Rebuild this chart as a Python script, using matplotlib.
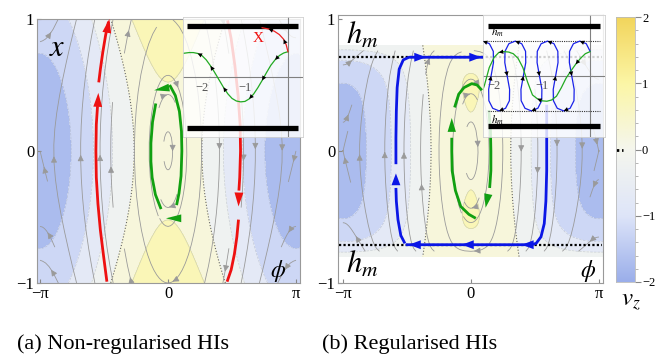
import numpy as np
import matplotlib
matplotlib.use("Agg")
import matplotlib.pyplot as plt
from matplotlib.colors import LinearSegmentedColormap, Normalize

plt.rcParams['font.family'] = ['Liberation Serif', 'DejaVu Serif']
plt.rcParams['mathtext.fontset'] = 'stix'

# ---- data ----------------------------------------------------------------
x_ticks = [-np.pi, 0, np.pi]
x_ticklabels = ['\u2212\u03c0', '0', '\u03c0']
y_ticks = [-1, 0, 1]
y_ticklabels = ['\u22121', '0', '1']
cbar_ticks = [-2, -1, 0, 1, 2]
cbar_labels = ['\u22122', '\u22121', '0', '1', '2']
vz_levels = [-2, -1.5, -1, -0.5, 0, 0.5, 1, 1.5, 2]
h_m = 0.71

# trajectories in (phi, x)
red_a_left = [[(-1.50, -0.99), (-1.58, -0.80), (-1.66, -0.60), (-1.72, -0.40), (-1.76, -0.20),
               (-1.77, 0.0), (-1.76, 0.20), (-1.73, 0.34)],
              [(-1.70, 0.52), (-1.66, 0.62), (-1.60, 0.75), (-1.53, 0.88), (-1.46, 0.98)]]
red_a_right = [[(1.46, 0.99), (1.55, 0.85), (1.64, 0.65), (1.72, 0.42), (1.77, 0.20),
                (1.78, 0.0), (1.76, -0.20), (1.74, -0.30)],
               [(1.73, -0.52), (1.69, -0.65), (1.63, -0.78), (1.55, -0.90), (1.45, -0.99)]]
red_a_heads = [((-1.73, 0.30), (-1.71, 0.44)), ((-1.47, 0.95), (-1.44, 1.0)),
               ((1.745, -0.28), (1.73, -0.42))]

green_a = [[(0.04, 0.50), (0.18, 0.42), (0.28, 0.30), (0.33, 0.15), (0.34, 0.0),
            (0.32, -0.19), (0.27, -0.32), (0.21, -0.41)],
           [(-0.30, 0.36), (-0.38, 0.22), (-0.42, 0.06), (-0.42, -0.08), (-0.39, -0.20),
            (-0.31, -0.33), (-0.17, -0.44)]]
green_a_heads = [((0.02, 0.48), (-0.34, 0.46)), ((0.28, -0.51), (-0.05, -0.51))]

green_b = [[(0.12, -0.51), (-0.05, -0.48), (-0.25, -0.42), (-0.38, -0.30), (-0.46, -0.15),
            (-0.47, 0.0), (-0.47, 0.10)],
           [(-0.40, 0.33), (-0.30, 0.43), (-0.17, 0.48), (0.02, 0.51), (0.15, 0.50), (0.27, 0.46)],
           [(0.44, 0.31), (0.48, 0.15), (0.49, 0.0), (0.49, -0.15), (0.46, -0.28)]]
green_b_heads = [((-0.47, 0.05), (-0.47, 0.25)), ((0.47, -0.26), (0.36, -0.43))]

blue_b = [[(-1.62, -0.70), (-1.72, -0.64), (-1.79, -0.52), (-1.83, -0.38), (-1.84, -0.28)],
          [(-1.84, -0.10), (-1.84, 0.10), (-1.83, 0.30), (-1.81, 0.48), (-1.76, 0.62),
           (-1.66, 0.69), (-1.52, 0.71), (0.30, 0.71)],
          [(1.86, 0.35), (1.86, 0.10), (1.86, -0.15), (1.84, -0.38), (1.80, -0.55),
           (1.72, -0.65), (1.60, -0.70), (1.48, -0.71), (-1.60, -0.71)]]
blue_b_heads = [((-1.84, -0.30), (-1.84, -0.17)), ((-1.35, 0.71), (-1.10, 0.71)),
                ((0.0, 0.71), (0.25, 0.71)), ((1.50, -0.71), (1.25, -0.71)),
                ((0.0, -0.71), (-0.22, -0.71)), ((-1.30, -0.71), (-1.52, -0.71))]

# inset curves (inset coordinates)
ins_green_a = [(0.00, 0.59), (-0.10, 0.56), (-0.20, 0.50), (-0.30, 0.40), (-0.40, 0.27),
               (-0.50, 0.10), (-0.60, -0.08), (-0.70, -0.25), (-0.80, -0.40), (-0.90, -0.51),
               (-1.00, -0.57), (-1.10, -0.58), (-1.20, -0.56), (-1.30, -0.50), (-1.40, -0.39),
               (-1.50, -0.24), (-1.60, -0.07), (-1.70, 0.10), (-1.80, 0.26), (-1.90, 0.40),
               (-2.00, 0.50), (-2.10, 0.55), (-2.20, 0.57), (-2.30, 0.57), (-2.45, 0.55)]
ins_red_a = [(0.0, 0.59), (-0.04, 0.75), (-0.10, 0.88), (-0.20, 0.99), (-0.32, 1.07),
             (-0.45, 1.12), (-0.60, 1.15)]
ins_green_b = [(0.00, 0.58), (-0.10, 0.53), (-0.20, 0.42), (-0.30, 0.28), (-0.40, 0.12),
               (-0.50, -0.05), (-0.60, -0.28), (-0.70, -0.48), (-0.80, -0.57), (-0.90, -0.60),
               (-1.00, -0.59), (-1.10, -0.54), (-1.20, -0.45), (-1.30, -0.15), (-1.40, 0.20),
               (-1.50, 0.42), (-1.60, 0.53), (-1.70, 0.57), (-1.80, 0.58), (-1.90, 0.56),
               (-2.00, 0.44), (-2.10, 0.20), (-2.20, -0.22), (-2.30, -0.55)]
ins_blue_b = [(0.000, 0.587), (-0.080, 0.767), (-0.214, 0.830), (-0.348, 0.767), (-0.428, 0.587),
              (-0.432, 0.318), (-0.382, 0.0), (-0.332, -0.318), (-0.336, -0.587), (-0.416, -0.767),
              (-0.550, -0.830), (-0.684, -0.767), (-0.764, -0.587), (-0.768, -0.318), (-0.718, 0.0),
              (-0.668, 0.318), (-0.672, 0.587), (-0.752, 0.767), (-0.886, 0.830), (-1.020, 0.767),
              (-1.100, 0.587), (-1.104, 0.318), (-1.054, 0.0), (-1.004, -0.318), (-1.008, -0.587),
              (-1.088, -0.767), (-1.222, -0.830), (-1.356, -0.767), (-1.436, -0.587), (-1.440, -0.318),
              (-1.390, 0.0), (-1.340, 0.318), (-1.344, 0.587), (-1.424, 0.767), (-1.558, 0.830),
              (-1.692, 0.767), (-1.772, 0.587), (-1.776, 0.318), (-1.726, 0.0), (-1.676, -0.318),
              (-1.680, -0.587), (-1.760, -0.767), (-1.894, -0.830), (-2.028, -0.767), (-2.108, -0.587),
              (-2.112, -0.318), (-2.062, 0.0), (-2.012, 0.318), (-2.016, 0.587), (-2.096, 0.767),
              (-2.230, 0.830), (-2.364, 0.767)]

# ---- figure layout (pixel boxes) -----------------------------------------
W, H = 655, 354
fig = plt.figure(figsize=(W / 100, H / 100), dpi=100)


def box(l, t, r, b):
    return [l / W, 1 - b / H, (r - l) / W, (b - t) / H]


ax_a = fig.add_axes(box(37, 19, 300, 283))
ax_b = fig.add_axes(box(338, 15, 603, 283))
cax = fig.add_axes(box(616, 17, 635, 282))
ins_a = fig.add_axes(box(183, 17, 303, 137))
ins_b = fig.add_axes(box(483, 15, 605, 137))

cmap = LinearSegmentedColormap.from_list(
    'vz', [(0, '#9aaeea'), (0.25, '#dee5f9'), (0.5, '#f5f6ee'), (0.75, '#fcf6a6'), (1, '#f2d55c')])
norm = Normalize(-2, 2)

phi = np.linspace(-np.pi - 0.14, np.pi + 0.12, 300)

# background field v_z
xa = np.linspace(-1, 1, 200)
P, X = np.meshgrid(phi, xa)
vz_a = 1.075 * np.cos(P) + 0.55 * X ** 2 - 0.725
xb = np.linspace(-0.8, 0.8, 160)
Pb, Xb = np.meshgrid(phi, xb)
vz_b = (1.075 * np.cos(Pb) + 0.3 * Xb ** 2 - 0.6) * (1 - (np.abs(Xb) / 0.82) ** 6)

for ax, PP, XX, VV in [(ax_a, P, X, vz_a), (ax_b, Pb, Xb, vz_b)]:
    ax.contourf(PP, XX, VV, levels=vz_levels, cmap=cmap, norm=norm, zorder=0)
    ax.contour(PP, XX, VV, levels=[-1.5, -1, -0.5, 0.5, 1], colors='#8f98aa',
               linewidths=0.5, alpha=0.4, zorder=1)
    ax.contour(PP, XX, VV, levels=[0], colors='#666666', linewidths=0.8,
               linestyles=':', zorder=1)

# streamlines
ps = np.linspace(-np.pi, np.pi, 60)
xs = np.linspace(-1, 1, 40)
PS, XS = np.meshgrid(ps, xs)
ax_a.streamplot(ps, xs, 0.64 * XS, -np.sin(PS), density=0.5, color='#9a9a9a',
                linewidth=0.6, arrowsize=0.9, zorder=2)
xs_b = np.linspace(-0.76, 0.76, 40)
PS, XS = np.meshgrid(ps, xs_b)
ax_b.streamplot(ps, xs_b, 0.64 * XS, -np.sin(PS) * (1 - (XS / 0.78) ** 6), density=0.5,
                color='#9a9a9a', linewidth=0.6, arrowsize=0.9, zorder=2)

# h_m lines
for y in (h_m, -h_m):
    ax_b.plot([-np.pi - 0.1, np.pi + 0.08], [y, y], color='k', lw=1.6,
              ls=(0, (1, 1)), zorder=3)


def draw_paths(ax, segs, color, lw=2.0):
    for seg in segs:
        pts = np.array(seg)
        ax.plot(pts[:, 0], pts[:, 1], color=color, lw=lw, solid_capstyle='butt', zorder=4)


def heads(ax, pairs, color, hl=1.0, hw=0.3, ms=10):
    for tail, tip in pairs:
        ax.annotate('', xy=tip, xytext=tail,
                    arrowprops=dict(arrowstyle=f'-|>,head_length={hl},head_width={hw}',
                                    color=color, lw=0, shrinkA=0, shrinkB=0, mutation_scale=ms),
                    zorder=5)


draw_paths(ax_a, red_a_left + red_a_right, '#ee1111')
heads(ax_a, red_a_heads, '#ee1111', hl=1.0, hw=0.32)
draw_paths(ax_a, green_a, '#11a011')
heads(ax_a, green_a_heads, '#11a011', hl=1.1, hw=0.28)
draw_paths(ax_b, green_b, '#11a011')
heads(ax_b, green_b_heads, '#11a011', hl=1.0, hw=0.3)
draw_paths(ax_b, blue_b, '#0b16e6')
heads(ax_b, blue_b_heads, '#0b16e6', hl=0.85, hw=0.32)

# main axes styling
for ax, xl, yl in [(ax_a, (-np.pi - 0.074, np.pi + 0.098), (-1, 1)),
                   (ax_b, (-np.pi - 0.12, np.pi + 0.1), (-1, 1.03))]:
    ax.set_xlim(*xl)
    ax.set_ylim(*yl)
    ax.set_xticks(x_ticks)
    ax.set_xticklabels(x_ticklabels)
    ax.set_yticks(y_ticks)
    ax.set_yticklabels(y_ticklabels)
    ax.tick_params(direction='in', length=3, color='#888888', labelsize=12, pad=2)
    for s in ax.spines.values():
        s.set_color('#999999')
        s.set_linewidth(0.8)

# colorbar
grad = np.linspace(-2, 2, 256).reshape(-1, 1)
cax.imshow(grad, extent=[0, 1, -2, 2], origin='lower', aspect='auto', cmap=cmap, norm=norm)
cax.plot([0.02, 0.36], [0, 0], color='k', lw=2, ls=(0, (1, 1)))
cax.set_xlim(0, 1)
cax.set_ylim(-2, 2)
cax.set_xticks([])
cax.yaxis.tick_right()
cax.set_yticks(cbar_ticks)
cax.set_yticklabels(cbar_labels)
cax.set_yticks(np.arange(-2, 2.01, 0.2), minor=True)
cax.tick_params(which='major', direction='out', length=4, color='#888888', labelsize=9, pad=1)
cax.tick_params(which='minor', direction='out', length=2, color='#aaaaaa')
for s in cax.spines.values():
    s.set_color('#bbbbbb')
    s.set_linewidth(0.6)

# insets
for ins, xl, yl, bar_x, labs in [(ins_a, (-2.44, 0.35), (-1.40, 1.40), (-2.35, 0.23), -0.26),
                                 (ins_b, (-2.23, 0.31), (-1.45, 1.45), (-2.12, 0.21), -0.24)]:
    ins.set_facecolor((1, 1, 1, 0.82))
    ins.set_xlim(*xl)
    ins.set_ylim(*yl)
    ins.set_xticks([])
    ins.set_yticks([])
    for s in ins.spines.values():
        s.set_color('#d0d0d0')
        s.set_linewidth(0.6)
    ins.axhline(0, color='#808080', lw=0.8)
    ins.axvline(0, color='#808080', lw=0.8)
    for yb in (1.2, -1.2):
        ins.plot(bar_x, [yb, yb], color='k', lw=3.8, solid_capstyle='butt')
    for v, t in [(-2, '\u22122'), (-1, '\u22121')]:
        ins.text(v, labs, t, ha='center', va='center', fontsize=9, color='#555555')

g = np.array(ins_green_a)
ins_a.plot(g[:, 0], g[:, 1], color='#22aa22', lw=0.9)
heads(ins_a, [(ins_green_a[i - 1], ins_green_a[i]) for i in (3, 6, 9, 15, 18, 21)], 'k',
      hl=0.8, hw=0.4, ms=4)
r = np.array(ins_red_a)
ins_a.plot(r[:, 0], r[:, 1], color='#ee2222', lw=0.9)
heads(ins_a, [(ins_red_a[i - 1], ins_red_a[i]) for i in (2, 5)], 'k', hl=0.8, hw=0.4, ms=4)
ins_a.text(-0.70, 0.91, 'X', color='#ee1111', fontsize=11, ha='center', va='center')

for y in (0.83, -0.83):
    ins_b.plot([-2.12, 0.21], [y, y], color='#333333', lw=0.8, ls=(0, (1, 1)))
b = np.array(ins_blue_b)
ins_b.plot(b[:, 0], b[:, 1], color='#1a22e8', lw=0.9)
heads(ins_b, [(ins_blue_b[i - 1], ins_blue_b[i]) for i in range(2, len(ins_blue_b) - 1, 4)], 'k',
      hl=0.8, hw=0.4, ms=4)
g = np.array(ins_green_b)
ins_b.plot(g[:, 0], g[:, 1], color='#22aa22', lw=0.9)
heads(ins_b, [(ins_green_b[i - 1], ins_green_b[i]) for i in (3, 11, 19)], 'k',
      hl=0.8, hw=0.4, ms=4)
ins_b.text(-1.92, 1.04, '$h_m$', fontsize=8, ha='center', va='center')
ins_b.text(-1.92, -1.06, '$h_m$', fontsize=8, ha='center', va='center')

# labels
fig.text(57 / W, 1 - 48 / H, '$x$', fontsize=22, ha='center', va='center')
fig.text(278 / W, 1 - 271 / H, r'$\phi$', fontsize=17, ha='center', va='center')
fig.text(588 / W, 1 - 271 / H, r'$\phi$', fontsize=17, ha='center', va='center')
fig.text(362 / W, 1 - 36 / H, '$h_m$', fontsize=22, ha='center', va='center')
fig.text(362 / W, 1 - 265 / H, '$h_m$', fontsize=22, ha='center', va='center')
fig.text(631 / W, 1 - 302 / H, '$v_z$', fontsize=18, ha='center', va='center')
fig.text(17 / W, 1 - 344 / H, '(a) Non-regularised HIs', fontsize=16, ha='left', va='center')
fig.text(322 / W, 1 - 344 / H, '(b) Regularised HIs', fontsize=16, ha='left', va='center')

fig.savefig('out.png', dpi=100)
